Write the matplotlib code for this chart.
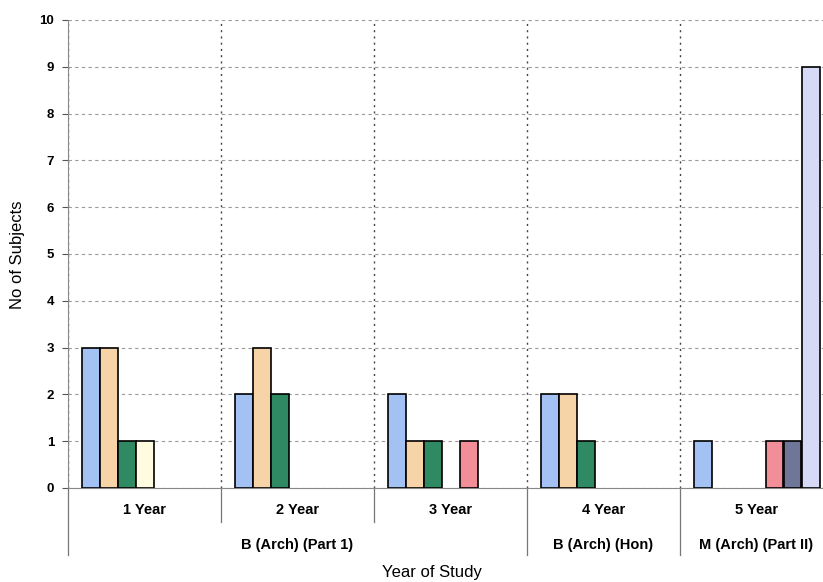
import matplotlib
matplotlib.use("Agg")
import matplotlib.pyplot as plt
import matplotlib.transforms as mtransforms
import numpy as np

years = ["1 Year", "2 Year", "3 Year", "4 Year", "5 Year"]
programmes = ["B (Arch) (Part 1)", "B (Arch) (Hon)", "M (Arch) (Part II)"]
programme_span = [(0, 2), (3, 3), (4, 4)]

s1 = [3, 2, 2, 2, 1]
s2 = [3, 3, 1, 2, 0]
s3 = [1, 2, 1, 1, 0]
s4 = [1, 0, 0, 0, 0]
s5 = [0, 0, 1, 0, 1]
s6 = [0, 0, 0, 0, 1]
s7 = [0, 0, 0, 0, 9]
series = [s1, s2, s3, s4, s5, s6, s7]
colors = ["#a3c1f2", "#f7d4a8", "#2f8a64", "#fffbe0", "#f28e98", "#6f7697", "#d7daf6"]

fig = plt.figure(figsize=(8.23, 5.82), dpi=100)
ax = fig.add_axes([68/823, 94/582, 765/823, 468/582])

x = np.arange(len(years))
w = 18/153
for k, (vals, c) in enumerate(zip(series, colors)):
    edges = ["black" if v > 0 else "none" for v in vals]
    ax.bar(x + (k - 3) * w, vals, width=w, color=c, edgecolor=edges, linewidth=1.2, zorder=3)

ax.set_xlim(-0.5, 4.5)
ax.set_ylim(0, 10)
ax.set_yticks(range(0, 11))
ax.set_yticklabels([str(i) for i in range(0, 11)], fontweight="bold", fontsize=9.5,
                   family="Liberation Sans")
ax.tick_params(axis="y", length=4, color="#555555", pad=6)
ax.set_xticks([])
ax.set_xticks(np.arange(-0.5, 5.0, 1.0), minor=True)
ax.tick_params(axis="x", which="minor", length=0)
ax.grid(axis="y", color="#999999", linestyle=(0, (3, 3)), linewidth=0.8, zorder=0)
ax.grid(axis="x", which="minor", color="#444444", linestyle=(0, (1.5, 3)), linewidth=1.0, zorder=0)

for side in ["top", "right"]:
    ax.spines[side].set_visible(False)
ax.spines["left"].set_color("#888888")
ax.spines["bottom"].set_color("#888888")

trans = mtransforms.blended_transform_factory(ax.transData, ax.transAxes)
for xb, yb in [(-0.5, -0.143), (0.5, -0.073), (1.5, -0.073), (2.5, -0.143), (3.5, -0.143)]:
    ax.plot([xb, xb], [0, yb], transform=trans, color="#777777", linewidth=0.9, clip_on=False)

for i, yl in enumerate(years):
    ax.text(i, -0.047, yl, transform=trans, ha="center", va="center", fontsize=10.5,
            fontweight="bold", family="Liberation Sans")
for name, (a, b) in zip(programmes, programme_span):
    ax.text((a + b) / 2, -0.122, name, transform=trans, ha="center", va="center", fontsize=10.5,
            fontweight="bold", family="Liberation Sans")

fig.text(432/823, 1 - 572/582, "Year of Study", ha="center", va="center", fontsize=12,
         family="Liberation Sans")
fig.text(18/823, 1 - 255/582, "No of Subjects", ha="center", va="center", rotation=90,
         fontsize=12, family="Liberation Sans")

fig.savefig("out.png", dpi=100)
